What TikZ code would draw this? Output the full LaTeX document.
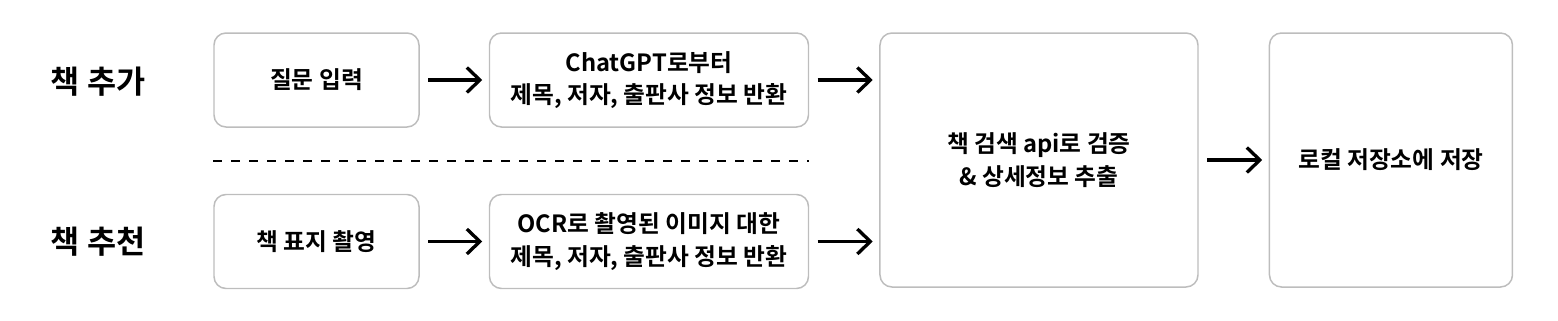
\documentclass[tikz,border=0pt]{standalone}
\usepackage{fontspec}
\setmainfont{Noto Sans CJK KR}[BoldFont={Noto Sans CJK KR Bold}]
\usepackage{tikz}
\usetikzlibrary{arrows.meta,positioning,calc}
\definecolor{boxline}{HTML}{BDBDBD}
\tikzset{
  stepbox/.style={draw=boxline, line width=0.85pt, rounded corners=0.24cm, minimum height=1.88cm, align=center, inner sep=2pt, font=\fontsize{13.5pt}{18.5pt}\selectfont\bfseries},
  lanelabel/.style={font=\fontsize{18pt}{22pt}\selectfont\bfseries, inner sep=0pt},
  flow/.style={-{Straight Barb[length=0.26cm,width=0.5cm]}, line width=1.9pt, shorten <=0.17cm, shorten >=0.13cm},
  sepline/.style={line width=0.85pt, dash pattern=on 0.18cm off 0.18cm},
}
\begin{document}
\begin{tikzpicture}
  \useasboundingbox (0,0) rectangle (31.16,-6.4);

  % Row 1: add a book
  \node[stepbox, minimum width=4.1cm] (ask) at (6.33,-1.6) {질문 입력};
  \node[stepbox, minimum width=6.38cm, right=1.38cm of ask] (gpt) {ChatGPT로부터\\제목, 저자, 출판사 정보 반환};

  % Row 2: recommend a book
  \node[stepbox, minimum width=4.1cm, below=1.32cm of ask] (shot) {책 표지 촬영};
  \node[stepbox, minimum width=6.38cm, below=1.32cm of gpt] (ocr) {OCR로 촬영된 이미지 대한\\제목, 저자, 출판사 정보 반환};

  % Row labels
  \node[lanelabel] (addlbl) at (1.96,-1.64) {책 추가};
  \node[lanelabel] (reclbl) at (1.96,-4.84) {책 추천};

  % Shared steps
  \node[stepbox, minimum width=6.36cm, minimum height=5.08cm, right=1.4cm of gpt.north east, anchor=north west] (verify) {책 검색 api로 검증\\\& 상세정보 추출};
  \node[stepbox, minimum width=4.86cm, minimum height=5.08cm, right=1.4cm of verify] (store) {로컬 저장소에 저장};

  % Separator
  \coordinate (sepL) at ($(ask.south west)!0.5!(shot.north west)$);
  \coordinate (sepR) at ($(gpt.south east)!0.5!(ocr.north east)$);
  \draw[sepline] (sepL) -- (sepR);

  % Arrows
  \draw[flow] (ask) -- (gpt);
  \draw[flow] (shot) -- (ocr);
  \draw[flow] (gpt.east) -- (gpt.east -| verify.west);
  \draw[flow] (ocr.east) -- (ocr.east -| verify.west);
  \draw[flow] (verify) -- (store);
\end{tikzpicture}
\end{document}
